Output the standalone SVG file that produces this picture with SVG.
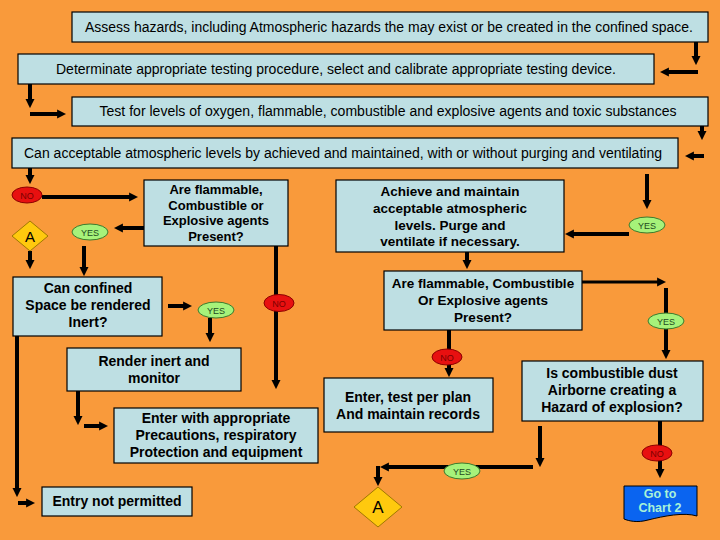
<svg xmlns="http://www.w3.org/2000/svg" width="720" height="540" viewBox="0 0 720 540">
<style>
.box{fill:#BEDFE3;stroke:#000;stroke-width:1.2}
.t{font-family:"Liberation Sans",Arial,sans-serif;font-size:14px;fill:#000;text-anchor:middle}
.b{font-weight:bold}
.c{stroke:#000;stroke-width:4;fill:none}
.no{fill:#E81010;stroke:#8A0000;stroke-width:1}
.yes{fill:#A6F27A;stroke:#3C7A2C;stroke-width:1}
.lno{font-family:"Liberation Sans",Arial,sans-serif;font-size:9px;fill:#7A0000;text-anchor:middle}
.lyes{font-family:"Liberation Sans",Arial,sans-serif;font-size:9px;fill:#1E4A1E;text-anchor:middle}
.dia{fill:#FFC90E;stroke:#A07800;stroke-width:1}
</style>
<defs>
<marker id="ah" viewBox="0 0 10 10" refX="1" refY="5" markerWidth="9" markerHeight="10" markerUnits="userSpaceOnUse" orient="auto">
<path d="M0,0 L10,5 L0,10 z" fill="#000"/>
</marker>
</defs>
<rect width="720" height="540" fill="#F99A3B"/>

<g id="connectors">
<line class="c" x1="696" y1="42" x2="696" y2="57" marker-end="url(#ah)"/>
<line class="c" x1="698" y1="72" x2="668" y2="72" marker-end="url(#ah)"/>
<line class="c" x1="30" y1="84" x2="30" y2="100" marker-end="url(#ah)"/>
<line class="c" x1="30" y1="114" x2="58" y2="114" marker-end="url(#ah)"/>
<line class="c" x1="702" y1="126" x2="702" y2="132" marker-end="url(#ah)"/>
<line class="c" x1="704" y1="156" x2="693" y2="156" marker-end="url(#ah)"/>
<line class="c" x1="30" y1="168" x2="30" y2="176" marker-end="url(#ah)"/>
<line class="c" x1="42" y1="197" x2="130" y2="197" marker-end="url(#ah)"/>
<line class="c" x1="144" y1="228" x2="122" y2="228" marker-end="url(#ah)"/>
<line class="c" x1="30" y1="251" x2="30" y2="261" marker-end="url(#ah)"/>
<line class="c" x1="84" y1="246" x2="84" y2="268" marker-end="url(#ah)"/>
<line class="c" x1="168" y1="306" x2="184" y2="306" marker-end="url(#ah)"/>
<line class="c" x1="210" y1="318" x2="210" y2="334" marker-end="url(#ah)"/>
<line class="c" x1="276" y1="246" x2="276" y2="381" marker-end="url(#ah)"/>
<line class="c" x1="78" y1="391" x2="78" y2="417" marker-end="url(#ah)"/>
<line class="c" x1="84" y1="426" x2="100" y2="426" marker-end="url(#ah)"/>
<line class="c" x1="17" y1="336" x2="17" y2="489" marker-end="url(#ah)"/>
<line class="c" x1="18" y1="503" x2="27" y2="503" marker-end="url(#ah)"/>
<line class="c" x1="647" y1="174" x2="647" y2="201" marker-end="url(#ah)"/>
<line class="c" x1="629" y1="234" x2="573" y2="234" marker-end="url(#ah)"/>
<line class="c" x1="467" y1="252" x2="467" y2="261" marker-end="url(#ah)"/>
<line class="c" x1="582" y1="282" x2="658" y2="282" style="stroke-width:3" marker-end="url(#ah)"/>
<line class="c" x1="666" y1="288" x2="666" y2="351" marker-end="url(#ah)"/>
<line class="c" x1="449" y1="330" x2="449" y2="369" marker-end="url(#ah)"/>
<line class="c" x1="660" y1="421" x2="660" y2="470" marker-end="url(#ah)"/>
<line class="c" x1="540" y1="426" x2="540" y2="459" marker-end="url(#ah)"/>
<line class="c" x1="533" y1="467" x2="388" y2="467" marker-end="url(#ah)"/>
<line class="c" x1="378" y1="466" x2="378" y2="478" marker-end="url(#ah)"/>
</g>

<g id="n1"><rect class="box" x="72" y="12" width="636" height="30"/>
<text class="t" x="389" y="32" textLength="608" lengthAdjust="spacingAndGlyphs">Assess hazards, including Atmospheric hazards the may exist or be created in the confined space.</text></g>
<g id="n2"><rect class="box" x="18" y="54" width="636" height="30"/>
<text class="t" x="336" y="74" textLength="560" lengthAdjust="spacingAndGlyphs">Determinate appropriate testing procedure, select and calibrate appropriate testing device.</text></g>
<g id="n3"><rect class="box" x="72" y="97" width="636" height="29"/>
<text class="t" x="388" y="116" textLength="577" lengthAdjust="spacingAndGlyphs">Test for levels of oxygen, flammable, combustible and explosive agents and toxic substances</text></g>
<g id="n4"><rect class="box" x="12" y="138" width="666" height="30"/>
<text class="t" x="343" y="158" textLength="638" lengthAdjust="spacingAndGlyphs">Can acceptable atmospheric levels by achieved and maintained, with or without purging and ventilating</text></g>

<g id="no1"><ellipse class="no" cx="27" cy="195" rx="15" ry="8"/><text class="lno" x="27" y="198.5">NO</text></g>

<g id="n5"><rect class="box" x="144" y="180" width="144" height="66"/>
<text class="t b" style="font-size:13px" x="216" y="194">Are flammable,</text>
<text class="t b" style="font-size:13px" x="216" y="210">Combustible or</text>
<text class="t b" style="font-size:13px" x="216" y="225">Explosive agents</text>
<text class="t b" style="font-size:13px" x="216" y="241">Present?</text></g>

<g id="yes1"><ellipse class="yes" cx="90" cy="232" rx="18" ry="8"/><text class="lyes" x="90" y="235.5">YES</text></g>

<g id="a1"><polygon class="dia" points="30,221 48,236 30,251 12,236"/><text class="t" style="font-size:15px" x="30" y="241.5">A</text></g>

<g id="n6"><rect class="box" x="13" y="277" width="149" height="59"/>
<text class="t b" x="88" y="293">Can confined</text>
<text class="t b" x="88" y="310">Space be rendered</text>
<text class="t b" x="88" y="327">Inert?</text></g>

<g id="yes2"><ellipse class="yes" cx="216" cy="310" rx="18" ry="8"/><text class="lyes" x="216" y="313.5">YES</text></g>
<g id="no2"><ellipse class="no" cx="279" cy="303" rx="15" ry="8.5"/><text class="lno" x="279" y="306.5">NO</text></g>

<g id="n7"><rect class="box" x="67" y="348" width="174" height="43"/>
<text class="t b" x="154" y="366">Render inert and</text>
<text class="t b" x="154" y="383">monitor</text></g>

<g id="n8"><rect class="box" x="114" y="408" width="204" height="55"/>
<text class="t b" x="216" y="423">Enter with appropriate</text>
<text class="t b" x="216" y="440">Precautions, respiratory</text>
<text class="t b" x="216" y="457">Protection and equipment</text></g>

<g id="n9"><rect class="box" x="42" y="487" width="150" height="29"/>
<text class="t b" x="117" y="506">Entry not permitted</text></g>

<g id="n10"><rect class="box" x="336" y="180" width="228" height="72"/>
<text class="t b" style="font-size:13.5px" x="450" y="196">Achieve and maintain</text>
<text class="t b" style="font-size:13.5px" x="450" y="213">acceptable atmospheric</text>
<text class="t b" style="font-size:13.5px" x="450" y="230">levels. Purge and</text>
<text class="t b" style="font-size:13.5px" x="450" y="246">ventilate if necessary.</text></g>

<g id="yes3"><ellipse class="yes" cx="647" cy="225" rx="18" ry="8"/><text class="lyes" x="647" y="228.5">YES</text></g>

<g id="n11"><rect class="box" x="384" y="271" width="198" height="59"/>
<text class="t b" style="font-size:13.5px" x="483" y="288">Are flammable, Combustible</text>
<text class="t b" style="font-size:13.5px" x="483" y="305">Or Explosive agents</text>
<text class="t b" style="font-size:13.5px" x="483" y="322">Present?</text></g>

<g id="yes4"><ellipse class="yes" cx="666" cy="321" rx="18" ry="8"/><text class="lyes" x="666" y="324.5">YES</text></g>
<g id="no3"><ellipse class="no" cx="447" cy="357" rx="15" ry="8"/><text class="lno" x="447" y="360.5">NO</text></g>

<g id="n12"><rect class="box" x="324" y="378" width="169" height="54"/>
<text class="t b" x="408" y="402">Enter, test per plan</text>
<text class="t b" x="408" y="419">And maintain records</text></g>

<g id="n13"><rect class="box" x="522" y="361" width="181" height="60"/>
<text class="t b" x="612" y="378">Is combustible dust</text>
<text class="t b" x="612" y="395">Airborne creating a</text>
<text class="t b" x="612" y="412">Hazard of explosion?</text></g>

<g id="no4"><ellipse class="no" cx="657" cy="453" rx="15" ry="8"/><text class="lno" x="657" y="456.5">NO</text></g>

<g id="yes5"><ellipse class="yes" cx="462" cy="471" rx="18" ry="8"/><text class="lyes" x="462" y="474.5">YES</text></g>

<g id="a2"><polygon class="dia" points="378,487 402,507 378,527 354,507"/><text class="t" style="font-size:17px" x="378" y="513">A</text></g>

<g id="chart2"><path d="M624,486 H697 V516 C684,512 664,516 648,520 C637,523 629,521 624,519 Z" fill="#0A64F0" stroke="#000" stroke-width="1"/>
<text class="t b" style="font-size:12.5px;fill:#A8F2D8" x="660" y="498">Go to</text>
<text class="t b" style="font-size:12.5px;fill:#A8F2D8" x="660" y="512">Chart 2</text></g>
</svg>
